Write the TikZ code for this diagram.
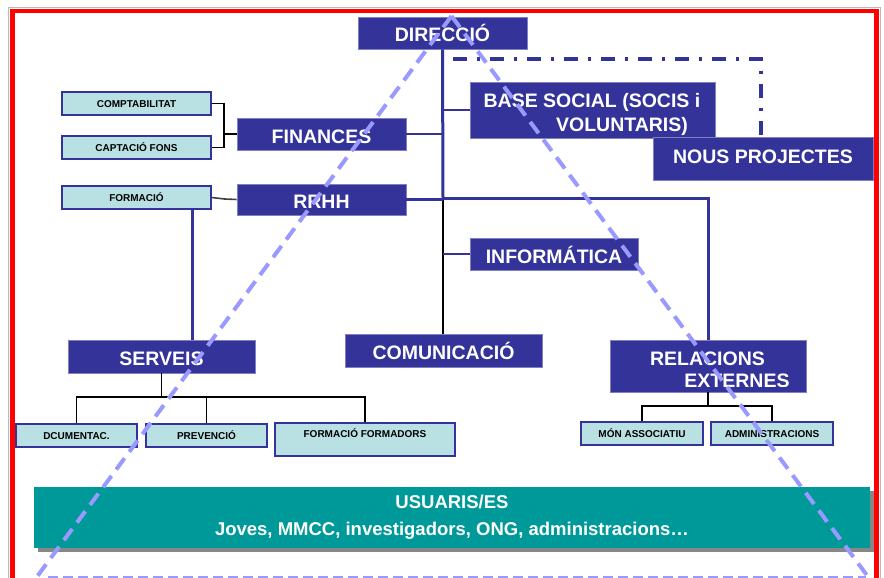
\documentclass[tikz,border=0pt]{standalone}
\usepackage{fontspec}
\setmainfont{Liberation Sans}
\definecolor{dblue}{HTML}{333399}
\definecolor{bordblue}{HTML}{8080C0}
\definecolor{lcyan}{HTML}{B9E1E3}
\definecolor{tealbox}{HTML}{009999}
\definecolor{dashblue}{HTML}{9999FF}
\definecolor{framegray}{HTML}{BBBBBB}
\definecolor{shadowgray}{HTML}{878787}
\tikzset{
  bigbox/.style={fill=dblue, draw=bordblue, line width=0.7pt, text=white,
    font=\fontsize{19.5}{22}\selectfont\bfseries, inner sep=0pt,
    text height=18pt, text depth=0pt},
  bigtext/.style={text=white, font=\fontsize{19.5}{22}\selectfont\bfseries,
    inner sep=0pt, text height=14pt, text depth=0pt},
  smallbox/.style={fill=lcyan, draw=dblue, line width=1.2pt, text=black,
    font=\fontsize{10}{12}\selectfont\bfseries, inner sep=0pt,
    text height=7.2pt, text depth=0pt},
  thickblue/.style={draw=dblue, line width=3pt},
  thinblue/.style={draw=dblue, line width=1.5pt},
  thinblack/.style={draw=black, line width=1.4pt},
  tridash/.style={draw=dashblue, line width=4pt, dash pattern=on 14pt off 8pt},
  dashdotline/.style={draw=dblue, line width=3.7pt, dash pattern=on 14pt off 10pt on 3pt off 10pt}
}
\begin{document}
\begin{tikzpicture}[x=1pt,y=-1pt]
\useasboundingbox (0,0) rectangle (884,578);
\clip (0,0) rectangle (884,578);
% frame
\draw[framegray, line width=1pt] (8.5,7.5) rectangle (880.5,620);
\draw[red, line width=4.8pt] (12.5,11) rectangle (876.5,620);

% big boxes
\node[bigbox, minimum width=169pt, minimum height=32pt] (dir) at (442.5,33) {DIRECCIÓ};
\node[bigbox, minimum width=245pt, minimum height=56pt] (base) at (592.5,110) {};
\node[bigtext] (base1) at (592,100) {BASE SOCIAL (SOCIS i};
\node[bigtext] (base2) at (622,124) {VOLUNTARIS)};
\node[bigbox, minimum width=220pt, minimum height=43pt, text height=9pt] (nous) at (763,158.5) {NOUS PROJECTES};
\node[bigbox, minimum width=169pt, minimum height=32pt] (fin) at (321.5,134) {FINANCES};
\node[bigbox, minimum width=169pt, minimum height=31pt] (rrhh) at (321.5,199.5) {RRHH};
\node[bigbox, minimum width=168pt, minimum height=32pt] (info) at (554,254) {INFORMÁTICA};
\node[bigbox, minimum width=197pt, minimum height=33pt] (com) at (443.5,350.5) {COMUNICACIÓ};
\node[bigbox, minimum width=187pt, minimum height=33pt] (serv) at (161.5,356.5) {SERVEIS};
\node[bigbox, minimum width=196pt, minimum height=52pt] (rel) at (708,366) {};
\node[bigtext] (rel1) at (707.5,358.5) {RELACIONS};
\begin{scope}
  \clip (610,340) rectangle (806,386);
  \node[bigtext] (rel2) at (737,380) {EXTERNES};
\end{scope}

% small boxes
\node[smallbox, minimum width=149pt, minimum height=23pt] (comp) at (136.5,103.5) {COMPTABILITAT};
\node[smallbox, minimum width=149pt, minimum height=23pt] (capt) at (136.5,147.5) {CAPTACIÓ FONS};
\node[smallbox, minimum width=149pt, minimum height=23pt] (form) at (136.5,197.5) {FORMACIÓ};
\node[smallbox, minimum width=121pt, minimum height=23pt] (dcu) at (76.5,435.5) {DCUMENTAC.};
\node[smallbox, minimum width=121pt, minimum height=23pt] (prev) at (206.5,435.5) {PREVENCIÓ};
\node[smallbox, minimum width=180pt, minimum height=33pt, text depth=11pt] (ff) at (365,439.5) {FORMACIÓ FORMADORS};
\node[smallbox, minimum width=122pt, minimum height=23pt] (mon) at (642,433.5) {MÓN ASSOCIATIU};
\node[smallbox, minimum width=122pt, minimum height=23pt] (adm) at (772,433.5) {ADMINISTRACIONS};

% users box with shadow
\fill[shadowgray] (38,491) rectangle (874,552);
\node[fill=tealbox, minimum width=836pt, minimum height=61pt, inner sep=0pt, text=white,
  font=\fontsize{18.5}{27}\selectfont\bfseries, align=center] (usu) at (452,517.5)
  {USUARIS/ES\\Joves, MMCC, investigadors, ONG, administracions…};

% coordinates
\coordinate (j1) at (443,198);
\coordinate (br) at (224,0);
\coordinate (fs) at (192,0);
\coordinate (sy) at (0,397);
\coordinate (ry) at (0,406);
\coordinate (dd) at (453,59);
\coordinate (ddc) at (761,59);

% connectors
\draw[thickblue] (dir.south) -- (j1);
\draw[thinblack] (j1) -- (j1 |- com.north);
\draw[thinblue] (fin.east) -- (fin.east -| j1);
\draw[thinblue] (base.west) -- (base.west -| j1);
\draw[thinblue] (info.west) -- (info.west -| j1);
\draw[thickblue] (rrhh.east) -- (rrhh.east -| j1);
\draw[thickblue] (j1) -- (j1 -| rel.north) -- (rel.north);
\draw[thickblue] (form.south -| fs) -- (serv.north -| fs);
\draw[draw=black!75, line width=1.6pt] (form.east) -- ++(13,1.5) -- (rrhh.west);
\draw[thinblack] (comp.east) -- (comp.east -| br) -- (capt.east -| br) -- (capt.east);
\draw[thinblack] (fin.west) -- (fin.west -| br);
\draw[thinblack] (serv.south) -- (serv.south |- sy);
\draw[thinblack] (dcu.north) -- (dcu.north |- sy) -- (ff.north |- sy) -- (ff.north);
\draw[thinblack] (prev.north) -- (prev.north |- sy);
\draw[thinblack] (rel.south) -- (rel.south |- ry);
\draw[thinblack] (mon.north) -- (mon.north |- ry) -- (adm.north |- ry) -- (adm.north);
\draw[dashdotline] (dd) -- (ddc) -- (ddc |- nous.north);

% dashed triangle
\coordinate (apex) at (451.5,16);
\coordinate (tl) at (36,578);
\coordinate (tr) at (869,578);
\draw[tridash] (apex) -- (tl);
\draw[tridash] (apex) -- (tr);
\draw[draw=dashblue, line width=3pt, dash pattern=on 10pt off 5pt] (48,577.5) -- (866,577.5);
\end{tikzpicture}
\end{document}
